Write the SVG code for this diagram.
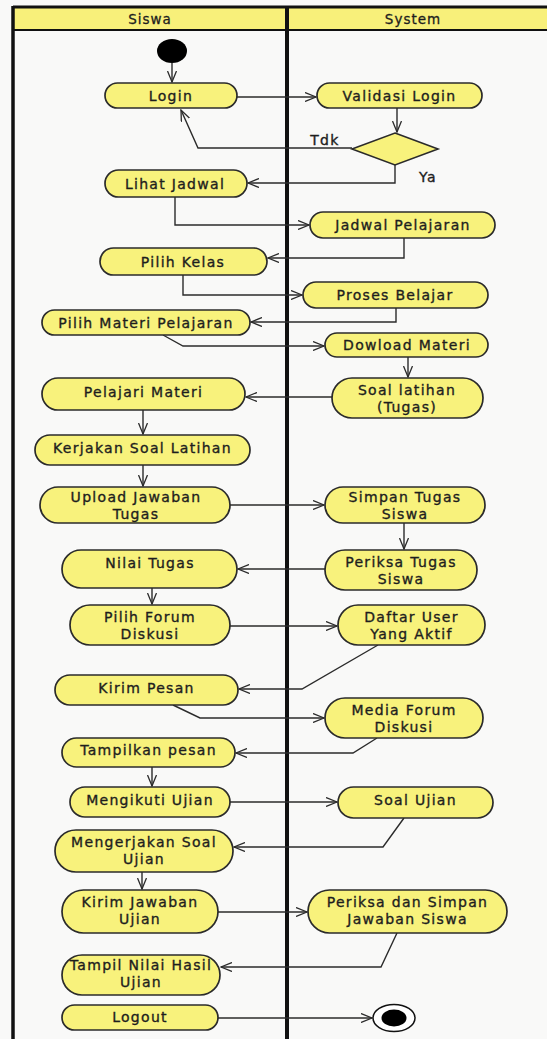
<svg xmlns="http://www.w3.org/2000/svg" width="547" height="1039" viewBox="0 0 547 1039">
<style>
.bg{fill:#f9f9f8}
.node rect{fill:#f8f27c;stroke:#2b2b2b;stroke-width:1.7}
.node text,.lbl{font-family:"DejaVu Sans",Verdana,sans-serif;font-size:14px;letter-spacing:1.3px;fill:#1e1e1e;stroke:#1e1e1e;stroke-width:0.35;text-anchor:middle;dominant-baseline:central}
.hdr{font-family:"DejaVu Sans",Verdana,sans-serif;font-size:13.5px;letter-spacing:1px;fill:#1e1e1e;stroke:#1e1e1e;stroke-width:0.3;text-anchor:middle;dominant-baseline:central}
.lane{stroke:#111;fill:none}
#connectors path{fill:none;stroke:#2b2b2b;stroke-width:1.4;marker-end:url(#arr)}
</style>
<defs>
<marker id="arr" viewBox="0 0 12 10" refX="11" refY="5" markerWidth="12" markerHeight="10" orient="auto" markerUnits="userSpaceOnUse">
<path d="M0,0.5 L11,5 L0,9.5" fill="none" stroke="#2b2b2b" stroke-width="1.3"/>
</marker>
</defs>
<rect class="bg" x="0" y="0" width="547" height="1039"/>
<g id="swimlanes">
<rect x="13" y="7" width="534" height="23" fill="#f8f07a"/>
<line class="lane" x1="13" y1="7" x2="547" y2="7" stroke-width="3"/>
<line class="lane" x1="13" y1="30" x2="547" y2="30" stroke-width="2"/>
<line class="lane" x1="13" y1="6" x2="13" y2="1039" stroke-width="3.5"/>
<line class="lane" x1="287" y1="6" x2="287" y2="1039" stroke-width="4"/>
<text class="hdr" x="150" y="19">Siswa</text>
<text class="hdr" x="413" y="19">System</text>
</g>
<g id="connectors">
<path d="M172,63 V82"/>
<path d="M237,97 H316"/>
<path d="M397,108 V132"/>
<path d="M352,148 H198 L181,110"/>
<path d="M395,165 V183 H248"/>
<path d="M175,197 V225 H309"/>
<path d="M404,238 V258 H268"/>
<path d="M183,275 V295 H302"/>
<path d="M396,308 V322 H251"/>
<path d="M163,335 L183,346 H324"/>
<path d="M408,357 V377"/>
<path d="M332,397 H246"/>
<path d="M143,410 V434"/>
<path d="M143,465 V486"/>
<path d="M230,505 H324"/>
<path d="M404,523 V549"/>
<path d="M325,569 H238"/>
<path d="M152,588 V604"/>
<path d="M230,626 H337"/>
<path d="M378,645 L302,689 H239"/>
<path d="M173,705 L200,718 H324"/>
<path d="M377,738 L353,753 H236"/>
<path d="M152,767 V786"/>
<path d="M230,802 H337"/>
<path d="M404,818 L383,847 H234"/>
<path d="M142,872 V889"/>
<path d="M218,912 H307"/>
<path d="M397,933 L381,967 H221"/>
<path d="M218,1018 H372"/>
</g>
<g id="start"><ellipse cx="172" cy="51" rx="15" ry="12" fill="#000"/></g>
<g id="decision"><polygon points="395,133 438,149 395,165 352,149" fill="#f8f27c" stroke="#2b2b2b" stroke-width="1.6"/></g>
<text class="lbl" x="325" y="140">Tdk</text>
<text class="lbl" x="428" y="177">Ya</text>
<g id="n_login" class="node"><rect x="105" y="83" width="132" height="25" rx="12.5"/><text x="171" y="95.5">Login</text></g>
<g id="n_validasi" class="node"><rect x="317" y="83" width="165" height="25" rx="12.5"/><text x="399.5" y="95.5">Validasi Login</text></g>
<g id="n_lihat" class="node"><rect x="105" y="170" width="142" height="27" rx="13.5"/><text x="175" y="183.5">Lihat Jadwal</text></g>
<g id="n_jadwal" class="node"><rect x="310" y="212" width="185" height="26" rx="13"/><text x="403" y="225">Jadwal Pelajaran</text></g>
<g id="n_kelas" class="node"><rect x="100" y="248" width="167" height="27" rx="13.5"/><text x="183" y="261.5">Pilih Kelas</text></g>
<g id="n_proses" class="node"><rect x="303" y="282" width="185" height="26" rx="13"/><text x="395" y="295">Proses Belajar</text></g>
<g id="n_materi" class="node"><rect x="42" y="310" width="208" height="25" rx="12.5"/><text x="146" y="322.5">Pilih Materi Pelajaran</text></g>
<g id="n_dowload" class="node"><rect x="325" y="333" width="163" height="24" rx="12"/><text x="407" y="345">Dowload Materi</text></g>
<g id="n_soallatihan" class="node"><rect x="332" y="378" width="151" height="40" rx="20"/><text x="407" y="390">Soal latihan</text><text x="407" y="407">(Tugas)</text></g>
<g id="n_pelajari" class="node"><rect x="42" y="378" width="203" height="32" rx="16"/><text x="143.5" y="392">Pelajari Materi</text></g>
<g id="n_kerjakan" class="node"><rect x="35" y="435" width="215" height="30" rx="15"/><text x="142.5" y="448">Kerjakan Soal Latihan</text></g>
<g id="n_upload" class="node"><rect x="40" y="487" width="190" height="36" rx="18"/><text x="136" y="496.5">Upload Jawaban</text><text x="136" y="513.5">Tugas</text></g>
<g id="n_simpan" class="node"><rect x="325" y="487" width="160" height="36" rx="18"/><text x="405" y="496.5">Simpan Tugas</text><text x="405" y="513.5">Siswa</text></g>
<g id="n_periksa" class="node"><rect x="325" y="550" width="152" height="40" rx="20"/><text x="401" y="562">Periksa Tugas</text><text x="401" y="579">Siswa</text></g>
<g id="n_nilai" class="node"><rect x="62" y="550" width="175" height="38" rx="19"/><text x="150" y="563">Nilai Tugas</text></g>
<g id="n_forum" class="node"><rect x="70" y="605" width="160" height="40" rx="20"/><text x="150" y="617">Pilih Forum</text><text x="150" y="634">Diskusi</text></g>
<g id="n_daftar" class="node"><rect x="338" y="605" width="147" height="40" rx="20"/><text x="411.5" y="617">Daftar User</text><text x="411.5" y="634">Yang Aktif</text></g>
<g id="n_kirimpesan" class="node"><rect x="55" y="675" width="183" height="30" rx="15"/><text x="146.5" y="688">Kirim Pesan</text></g>
<g id="n_media" class="node"><rect x="325" y="698" width="158" height="40" rx="20"/><text x="404" y="710">Media Forum</text><text x="404" y="727">Diskusi</text></g>
<g id="n_tampilkan" class="node"><rect x="62" y="738" width="173" height="29" rx="14.5"/><text x="148.5" y="750">Tampilkan pesan</text></g>
<g id="n_mengikuti" class="node"><rect x="70" y="787" width="160" height="30" rx="15"/><text x="150" y="800">Mengikuti Ujian</text></g>
<g id="n_soalujian" class="node"><rect x="338" y="787" width="155" height="31" rx="15.5"/><text x="415.5" y="800">Soal Ujian</text></g>
<g id="n_mengerjakan" class="node"><rect x="55" y="830" width="178" height="42" rx="21"/><text x="144" y="842">Mengerjakan Soal</text><text x="144" y="859">Ujian</text></g>
<g id="n_kirimjawaban" class="node"><rect x="62" y="890" width="156" height="43" rx="21.5"/><text x="140" y="902">Kirim Jawaban</text><text x="140" y="919">Ujian</text></g>
<g id="n_periksasimpan" class="node"><rect x="308" y="890" width="199" height="43" rx="21.5"/><text x="407.5" y="902">Periksa dan Simpan</text><text x="407.5" y="919">Jawaban Siswa</text></g>
<g id="n_tampilnilai" class="node"><rect x="62" y="955" width="158" height="40" rx="20"/><text x="141" y="965">Tampil Nilai Hasil</text><text x="141" y="982">Ujian</text></g>
<g id="n_logout" class="node"><rect x="62" y="1005" width="156" height="25" rx="12.5"/><text x="140" y="1017">Logout</text></g>
<g id="end"><ellipse cx="394" cy="1018" rx="21" ry="13.5" fill="#fff" stroke="#111" stroke-width="1.5"/><ellipse cx="394" cy="1018" rx="12.5" ry="8.5" fill="#000"/></g>
</svg>
